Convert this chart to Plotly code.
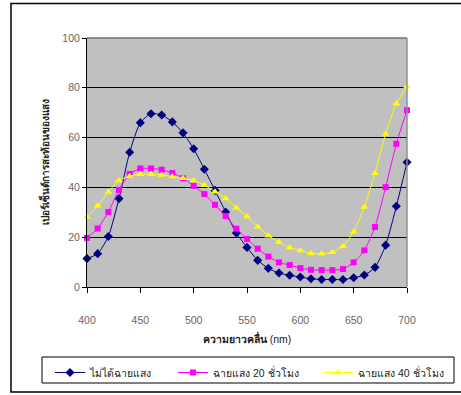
import plotly.graph_objects as go

wavelength = list(range(400, 701, 10))

no_light = [11.4, 13.4, 20.3, 35.5, 54.1, 66.0, 69.6, 69.1, 66.3, 61.9,
            55.5, 47.3, 38.8, 30.1, 21.7, 15.9, 10.7, 7.5, 5.6, 4.7,
            4.0, 3.3, 3.0, 3.0, 3.0, 3.7, 4.8, 7.9, 16.8, 32.4, 50.1]
light_20h = [19.7, 23.5, 30.1, 39.0, 45.4, 47.6, 47.6, 47.1, 45.8, 43.7,
             40.6, 37.3, 33.0, 28.5, 23.4, 19.3, 15.4, 12.2, 9.9, 8.8,
             7.6, 6.9, 6.8, 6.8, 7.2, 9.9, 14.7, 24.1, 40.1, 57.5, 71.0]
light_40h = [28.1, 32.6, 38.2, 42.8, 44.5, 45.3, 45.3, 45.0, 44.4, 43.7,
             42.8, 40.9, 38.3, 35.5, 31.8, 28.3, 24.2, 20.6, 18.0, 15.8,
             14.7, 13.5, 13.4, 14.0, 16.4, 22.2, 32.1, 45.7, 61.5, 73.6, 80.5]

names = ["ไม่ได้ฉายแสง", "ฉายแสง 20 ชั่วโมง", "ฉายแสง 40 ชั่วโมง"]
colors = ["#000080", "#FF00FF", "#FFFF00"]
symbols = ["diamond", "square", "triangle-up"]
sizes = [7, 6, 7]
series = [no_light, light_20h, light_40h]
legend_ids = ["legend", "legend2", "legend3"]
legend_x_px = [50, 173, 318]

FONT = "Liberation Sans, Arial, Noto Sans, sans-serif"

fig = go.Figure()
for s, n, c, sym, sz, lid in zip(series, names, colors, symbols, sizes, legend_ids):
    fig.add_trace(go.Scatter(
        x=wavelength, y=s, name=n, mode="lines+markers",
        line=dict(color=c, width=1, shape="spline", smoothing=0.6),
        marker=dict(color=c, symbol=sym, size=sz, line=dict(width=0)),
        cliponaxis=False, legend=lid,
    ))

L, R, T, B = 87, 54, 38, 108
W, H = 461, 395
pw, ph = W - L - R, H - T - B

def px_x(x):
    return (x - L) / pw

def px_y(y):
    return (H - B - y) / ph

layout_legends = {}
for lid, lx in zip(legend_ids, legend_x_px):
    layout_legends[lid] = dict(
        x=px_x(lx), y=px_y(358), xanchor="left", yanchor="top",
        orientation="h", bgcolor="rgba(0,0,0,0)",
        font=dict(family=FONT, size=10.5, color="#222222"),
    )

fig.update_layout(
    width=W, height=H,
    margin=dict(l=L, r=R, t=T, b=B, autoexpand=False),
    paper_bgcolor="white",
    plot_bgcolor="#C0C0C0",
    showlegend=True,
    font=dict(family=FONT, size=10, color="#666666"),
    **layout_legends,
    xaxis=dict(
        range=[400, 700], tickmode="linear", tick0=400, dtick=50,
        showgrid=False, zeroline=False,
        showline=True, linecolor="black", linewidth=1,
        ticks="outside", ticklen=5, tickcolor="black",
        ticklabelstandoff=18,
        tickfont=dict(family=FONT, size=10.5, color="#666666"),
        title=dict(text="<b>ความยาวคลื่น</b> (nm)", standoff=11,
                   font=dict(family=FONT, size=10.5, color="#222222")),
    ),
    yaxis=dict(
        range=[0, 100], tickmode="linear", tick0=0, dtick=20,
        showgrid=True, gridcolor="black", gridwidth=1, zeroline=False,
        showline=True, linecolor="black", linewidth=1,
        ticks="outside", ticklen=4, tickcolor="black",
        tickfont=dict(family=FONT, size=10.5, color="#666666"),
        title=dict(text="<b>เปอร์เซ็นต์การสะท้อนของแสง</b>", standoff=10,
                   font=dict(family=FONT, size=10, color="#222222")),
    ),
    shapes=[
        dict(type="line", xref="paper", yref="paper", x0=0, x1=1, y0=1, y1=1,
             line=dict(color="#707070", width=1.5)),
        dict(type="line", xref="paper", yref="paper", x0=1, x1=1, y0=0, y1=1,
             line=dict(color="#909090", width=1.5)),
        dict(type="rect", xref="paper", yref="paper",
             x0=px_x(42), x1=px_x(454), y0=px_y(383), y1=px_y(357),
             line=dict(color="black", width=1), fillcolor="rgba(0,0,0,0)",
             layer="below"),
        dict(type="rect", xref="paper", yref="paper",
             x0=px_x(11), x1=px_x(470), y0=px_y(392), y1=px_y(3.5),
             line=dict(color="black", width=1.5), fillcolor="rgba(0,0,0,0)"),
    ],
)

fig.write_html("out.html")
